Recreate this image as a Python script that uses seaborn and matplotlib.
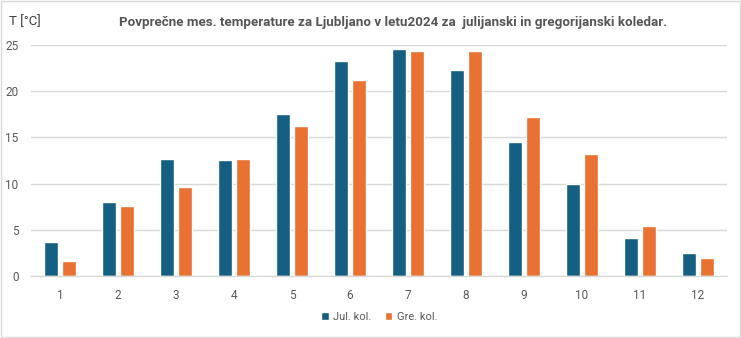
import matplotlib
matplotlib.use("Agg")
import matplotlib.pyplot as plt
import seaborn as sns
import pandas as pd
from matplotlib.patches import Rectangle

months = ["1", "2", "3", "4", "5", "6", "7", "8", "9", "10", "11", "12"]
jul_kol = [3.7, 8.0, 12.7, 12.6, 17.5, 23.3, 24.6, 22.3, 14.5, 10.0, 4.1, 2.5]
gre_kol = [1.6, 7.6, 9.6, 12.7, 16.2, 21.2, 24.4, 24.4, 17.2, 13.2, 5.4, 1.9]
series_names = ["Jul. kol.", "Gre. kol."]
colors = ["#156082", "#E97132"]

df = pd.DataFrame({
    "mesec": months * 2,
    "T": jul_kol + gre_kol,
    "serija": [series_names[0]] * len(months) + [series_names[1]] * len(months),
})

sns.set_theme(style="white")
plt.rcParams["font.family"] = ["Roboto", "DejaVu Sans"]

fig = plt.figure(figsize=(7.41, 3.38), dpi=100)
ax = fig.add_axes([0.042, 0.1834, 0.939, 0.6835])

sns.barplot(data=df, x="mesec", y="T", hue="serija", order=months,
            hue_order=series_names, palette=colors, width=0.60, gap=0.20,
            saturation=1, ax=ax, legend=True)

txt = "#595959"
ax.set_ylim(0, 25)
ax.set_xlim(-0.5, 11.5)
ax.set_yticks([0, 5, 10, 15, 20, 25])
ax.yaxis.grid(True, color="#d9d9d9", linewidth=1)
ax.set_axisbelow(True)
for s in ["top", "right", "left"]:
    ax.spines[s].set_visible(False)
ax.spines["bottom"].set_color("#d9d9d9")
ax.spines["bottom"].set_linewidth(1)
ax.tick_params(axis="both", length=0, labelsize=8.5, labelcolor=txt)
ax.tick_params(axis="y", pad=9)
ax.tick_params(axis="x", pad=9)
ax.set_xlabel("")
ax.set_ylabel("")

leg = ax.legend(loc="center", bbox_to_anchor=(0.5, -0.178), ncol=2, frameon=False,
                fontsize=8, handlelength=0.7, handleheight=0.7, handletextpad=0.4,
                columnspacing=1.2, labelcolor=txt)

fig.text(0.012, 0.935, "T [°C]", fontsize=9.5, color="#404040", ha="left", va="center")
fig.text(0.531, 0.932, "Povprečne mes. temperature za Ljubljano v letu2024 za  julijanski in gregorijanski koledar.",
         fontsize=9.6, fontweight="bold", color="#555555", ha="center", va="center")

fig.patches.append(Rectangle((0.001, 0.002), 0.997, 0.995, transform=fig.transFigure,
                             fill=False, edgecolor="#d9d9d9", linewidth=1))

fig.savefig("out.png", dpi=100, facecolor="white")
